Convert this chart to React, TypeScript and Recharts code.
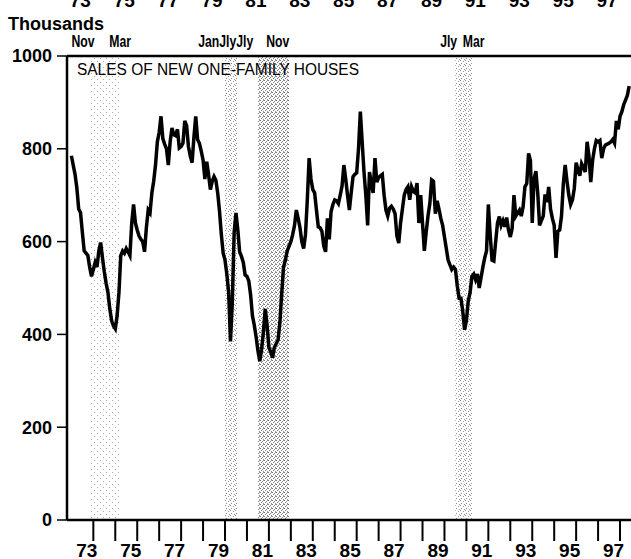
import React from "react";
import {
  LineChart,
  Line,
  XAxis,
  YAxis,
  ReferenceArea,
} from "recharts";

// ---------- DATA ----------
const startYear = 1973; // first month = Jan 1973, monthly values (thousands, SAAR)

const sales1970s = [
  785, 765, 745, 715, 670, 662, 620, 580, 575, 570, 545, 525, // 1973
  540, 555, 545, 580, 598, 565, 535, 510, 490, 455, 430, 418, // 1974
  412, 440, 490, 570, 580, 575, 585, 578, 570, 640, 680, 640, // 1975
  625, 612, 605, 600, 578, 630, 668, 662, 705, 730, 765, 815, // 1976
  835, 870, 822, 810, 800, 765, 815, 845, 830, 828, 842, 802, // 1977
  805, 812, 860, 850, 805, 785, 770, 825, 870, 820, 812, 795, // 1978
  776, 735, 772, 745, 712, 730, 740, 732, 705, 665, 615, 575, // 1979
];
const sales1980s = [
  560, 530, 490, 385, 470, 620, 662, 625, 578, 568, 555, 528, // 1980
  525, 515, 485, 440, 420, 395, 365, 342, 368, 405, 455, 420, // 1981
  372, 362, 350, 372, 380, 388, 425, 488, 545, 560, 580, 590, // 1982
  600, 615, 635, 668, 650, 630, 600, 585, 615, 690, 780, 735, // 1983
  712, 705, 668, 632, 630, 622, 590, 578, 650, 605, 665, 680, // 1984
  690, 688, 682, 700, 720, 765, 735, 700, 668, 705, 740, 745, // 1985
  748, 800, 880, 815, 750, 700, 635, 750, 725, 705, 780, 728, // 1986
  738, 742, 745, 700, 668, 655, 672, 676, 670, 660, 612, 597, // 1987
  640, 670, 700, 712, 718, 690, 718, 708, 705, 726, 640, 700, // 1988
  640, 580, 620, 655, 682, 733, 730, 660, 688, 670, 650, 635, // 1989
];
const sales1990s = [
  610, 585, 560, 550, 540, 545, 540, 505, 478, 478, 450, 410, // 1990
  430, 472, 490, 525, 530, 518, 530, 500, 522, 545, 565, 580, // 1991
  680, 615, 560, 558, 600, 640, 654, 635, 645, 632, 652, 625, // 1992
  610, 628, 700, 655, 662, 668, 655, 675, 718, 725, 790, 775, // 1993
  640, 735, 752, 705, 635, 645, 655, 702, 685, 718, 670, 650, // 1994
  635, 565, 622, 625, 655, 725, 765, 730, 700, 680, 690, 715, // 1995
  770, 755, 742, 768, 760, 750, 815, 785, 728, 775, 800, 818, // 1996
  815, 818, 780, 800, 808, 810, 812, 815, 820, 812, 860, 842, // 1997
  870, 880, 895, 905, 915, 935, // 1998
];

// recessions (decimal years), with month labels shown above the frame
const recessionStarts = [1973 + 10 / 12, 1980, 1981 + 6 / 12, 1990 + 6 / 12];
const recessionEnds = [1975 + 3 / 12, 1980 + 7 / 12, 1982 + 11 / 12, 1991 + 3 / 12];
const recessionStartLabels = ["Nov", "Jan", "Jly", "Jly"];
const recessionEndLabels = ["Mar", "Jly", "Nov", "Mar"];

const yTicks = [0, 200, 400, 600, 800, 1000];
const yearTicks = [
  1974, 1975, 1976, 1977, 1978, 1979, 1980, 1981, 1982, 1983, 1984, 1985, 1986,
  1987, 1988, 1989, 1990, 1991, 1992, 1993, 1994, 1995, 1996, 1997, 1998,
];
const xTickLabels = ["73", "75", "77", "79", "81", "83", "85", "87", "89", "91", "93", "95", "97"];

const titleText = "SALES OF NEW ONE-FAMILY HOUSES";
const unitText = "Thousands";

// ---------- BUILD TABLE ----------
const allSales = [...sales1970s, ...sales1980s, ...sales1990s];
const data = allSales.map((v, i) => ({ t: startYear + i / 12, v }));

// ---------- LAYOUT / STYLE ----------
const W = 631;
const H = 559;
const X_DOMAIN: [number, number] = [1972.8, 1998.5];
const FONT = '"Liberation Sans", Arial, Helvetica, sans-serif';
const TOP_LABEL_BASELINE = 7;
const TOP_LABEL_DX = -13;
const BOTTOM_LABEL_BASELINE = 557;
const BOTTOM_LABEL_DX = -6.5;
const REC_LABEL_BASELINE = 47;
const REC_LABEL_NUDGE = [
  [-6.6, -0.7],
  [-16.3, -10.1],
  [-13.2, -11.3],
  [-6.8, 1.7],
];
const bandFills = ["url(#stipLight)", "url(#stipMed)", "url(#stipDense)", "url(#stipMed)"];

function TopTick(props: any) {
  const { x, index } = props;
  if (index % 2 !== 0) return <g />;
  return (
    <text
      x={x + TOP_LABEL_DX}
      y={TOP_LABEL_BASELINE}
      textAnchor="middle"
      fontFamily={FONT}
      fontWeight={700}
      fontSize={19}
      fill="#000"
    >
      {xTickLabels[index / 2]}
    </text>
  );
}

function BottomTick(props: any) {
  const { x, index } = props;
  if (index % 2 !== 0) return <g />;
  return (
    <text
      x={x + BOTTOM_LABEL_DX}
      y={BOTTOM_LABEL_BASELINE}
      textAnchor="middle"
      fontFamily={FONT}
      fontWeight={700}
      fontSize={19}
      fill="#000"
    >
      {xTickLabels[index / 2]}
    </text>
  );
}

function CondText(p: { x: number; text: string }) {
  return (
    <text
      transform={`translate(${p.x},${REC_LABEL_BASELINE}) scale(0.72,1)`}
      textAnchor="middle"
      fontFamily={FONT}
      fontWeight={700}
      fontSize={17}
      fill="#000"
    >
      {p.text}
    </text>
  );
}

function makeRecLabel(i: number) {
  return (props: any) => {
    const vb = props && props.viewBox ? props.viewBox : null;
    if (!vb) return null;
    const x1 = vb.x;
    const x2 = vb.x + vb.width;
    return (
      <g>
        <CondText x={x1 + REC_LABEL_NUDGE[i][0]} text={recessionStartLabels[i]} />
        <CondText x={x2 + REC_LABEL_NUDGE[i][1]} text={recessionEndLabels[i]} />
      </g>
    );
  };
}

export default function App() {
  return (
    <div
      style={{
        position: "absolute",
        left: 0,
        top: 0,
        width: W,
        height: H,
        overflow: "hidden",
        background: "#fff",
      }}
    >
      <svg width={0} height={0} style={{ position: "absolute" }}>
        <defs>
          <pattern id="stipDense" width="4" height="4" patternUnits="userSpaceOnUse">
            <rect x="0" y="0" width="1" height="1" fill="#777" />
            <rect x="2" y="1" width="1" height="1" fill="#888" />
            <rect x="1" y="2" width="1" height="1" fill="#777" />
            <rect x="3" y="3" width="1" height="1" fill="#888" />
            <rect x="3" y="0" width="1" height="1" fill="#999" />
          </pattern>
          <pattern id="stipMed" width="5" height="5" patternUnits="userSpaceOnUse">
            <rect x="0" y="0" width="1" height="1" fill="#888" />
            <rect x="3" y="1" width="1" height="1" fill="#999" />
            <rect x="1" y="3" width="1" height="1" fill="#888" />
            <rect x="4" y="4" width="1" height="1" fill="#999" />
          </pattern>
          <pattern id="stipLight" width="6" height="6" patternUnits="userSpaceOnUse">
            <rect x="1" y="1" width="1" height="1" fill="#aaa" />
            <rect x="4" y="4" width="1" height="1" fill="#aaa" />
          </pattern>
        </defs>
      </svg>
      <LineChart width={W} height={H} data={data} margin={{ top: 0, right: 0, bottom: 0, left: 0 }}>
        <XAxis
          xAxisId="top"
          orientation="top"
          type="number"
          dataKey="t"
          domain={X_DOMAIN}
          allowDataOverflow
          ticks={yearTicks}
          interval={0}
          height={56}
          axisLine={{ stroke: "#000", strokeWidth: 2.5 }}
          tickLine={false}
          tick={<TopTick />}
        />
        <XAxis
          type="number"
          dataKey="t"
          domain={X_DOMAIN}
          allowDataOverflow
          ticks={yearTicks}
          interval={0}
          height={39}
          tickSize={21}
          axisLine={{ stroke: "#000", strokeWidth: 2.5 }}
          tickLine={{ stroke: "#000", strokeWidth: 2 }}
          tick={<BottomTick />}
        />
        <YAxis
          type="number"
          domain={[0, 1000]}
          ticks={yTicks}
          interval={0}
          width={67}
          tickSize={10}
          tickMargin={5}
          axisLine={{ stroke: "#000", strokeWidth: 2.5 }}
          tickLine={{ stroke: "#000", strokeWidth: 1.5 }}
          tick={{ fill: "#000", fontSize: 18, fontWeight: 700, fontFamily: FONT }}
        />
        {recessionStarts.map((s, i) => (
          <ReferenceArea
            key={i}
            x1={s}
            x2={recessionEnds[i]}
            y1={0}
            y2={1000}
            fill={bandFills[i]}
            fillOpacity={1}
            stroke="none"
            label={makeRecLabel(i)}
          />
        ))}
        <Line
          type="linear"
          dataKey="v"
          stroke="#000"
          strokeWidth={3.5}
          dot={false}
          isAnimationActive={false}
        />
      </LineChart>
      <svg
        width={W}
        height={H}
        style={{ position: "absolute", left: 0, top: 0, pointerEvents: "none" }}
      >
        <text x={8} y={30} fontFamily={FONT} fontWeight={700} fontSize={18} fill="#000">
          {unitText}
        </text>
        <text
          x={77}
          y={75}
          fontFamily={FONT}
          fontSize={16}
          textLength={282}
          lengthAdjust="spacingAndGlyphs"
          fill="#000"
        >
          {titleText}
        </text>
      </svg>
    </div>
  );
}
